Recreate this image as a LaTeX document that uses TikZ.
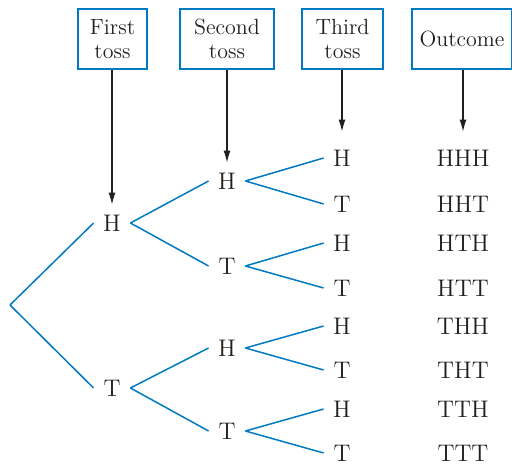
\documentclass[tikz,border=0pt]{standalone}
\usetikzlibrary{arrows.meta}
\definecolor{treeblue}{RGB}{0,122,194}
\definecolor{inkgray}{RGB}{35,31,32}
\begin{document}
\begin{tikzpicture}
	[
	x=0.5pt, y=-0.5pt,
	align=center,
	font=\fontsize{11}{12}\selectfont,
	text=inkgray,
	head/.style={draw=treeblue, line width=1pt, minimum height=30pt, inner sep=2pt},
	toss/.style={minimum width=18pt, minimum height=18pt, inner sep=0pt, font=\fontsize{12}{13}\selectfont},
	outcome/.style={font=\fontsize{12}{13}\selectfont},
	branch/.style={draw=treeblue, line width=0.75pt},
	pointer/.style={draw=inkgray, -{Latex[length=6pt,width=3.5pt]}, line width=0.6pt}
	]
		\useasboundingbox (0,0) rectangle (512,464);

		% headings
		\node (bfirst) [head, minimum width=34.5pt] at (112.5,39) {First\\toss};
		\node (bsecond) [head, minimum width=47pt] at (227,39) {Second\\toss};
		\node (bthird) [head, minimum width=40.5pt] at (342.5,39) {Third\\toss};
		\node (bout) [head, minimum width=50pt] at (462,39) {Outcome};

		% root
		\coordinate (root) at (10,305);

		% first toss
		\node (h) [toss] at (112,223) {H};
		\node (t) [toss] at (112,388) {T};

		% second toss
		\node (hh) [toss] at (227,181) {H};
		\node (ht) [toss] at (227,266) {T};
		\node (th) [toss] at (227,348) {H};
		\node (tt) [toss] at (227,431) {T};

		% third toss
		\node (hhh) [toss] at (342,158) {H};
		\node (hht) [toss] at (342,204) {T};
		\node (hth) [toss] at (342,243) {H};
		\node (htt) [toss] at (342,288) {T};
		\node (thh) [toss] at (342,326) {H};
		\node (tht) [toss] at (342,370) {T};
		\node (tth) [toss] at (342,409) {H};
		\node (ttt) [toss] at (342,453) {T};

		% outcomes
		\node (ohhh) [outcome] at (463,158) {HHH};
		\node (ohht) [outcome] at (463,204) {HHT};
		\node (ohth) [outcome] at (463,243) {HTH};
		\node (ohtt) [outcome] at (463,288) {HTT};
		\node (othh) [outcome] at (463,326) {THH};
		\node (otht) [outcome] at (463,370) {THT};
		\node (otth) [outcome] at (463,409) {TTH};
		\node (ottt) [outcome] at (463,453) {TTT};

		% drawing code
		\draw [pointer] (h.north |- bfirst.south) -- (h.north);
		\draw [pointer] (hh.north |- bsecond.south) -- (hh.north);
		\draw [pointer, shorten >=4pt] (hhh.north |- bthird.south) -- (hhh.north);
		\draw [pointer, shorten >=4pt] (ohhh.north |- bout.south) -- (ohhh.north |- hhh.north);
		\foreach \to in {h,t} \draw [branch] (root) -- (\to.west);
		\foreach \from/\to in {h/hh,h/ht,t/th,t/tt} \draw [branch] (\from.east) -- (\to.west);
		\foreach \from/\to in {hh/hhh,hh/hht,ht/hth,ht/htt,th/thh,th/tht,tt/tth,tt/ttt} \draw [branch] (\from.east) -- (\to.west);
	\end{tikzpicture}
\end{document}
